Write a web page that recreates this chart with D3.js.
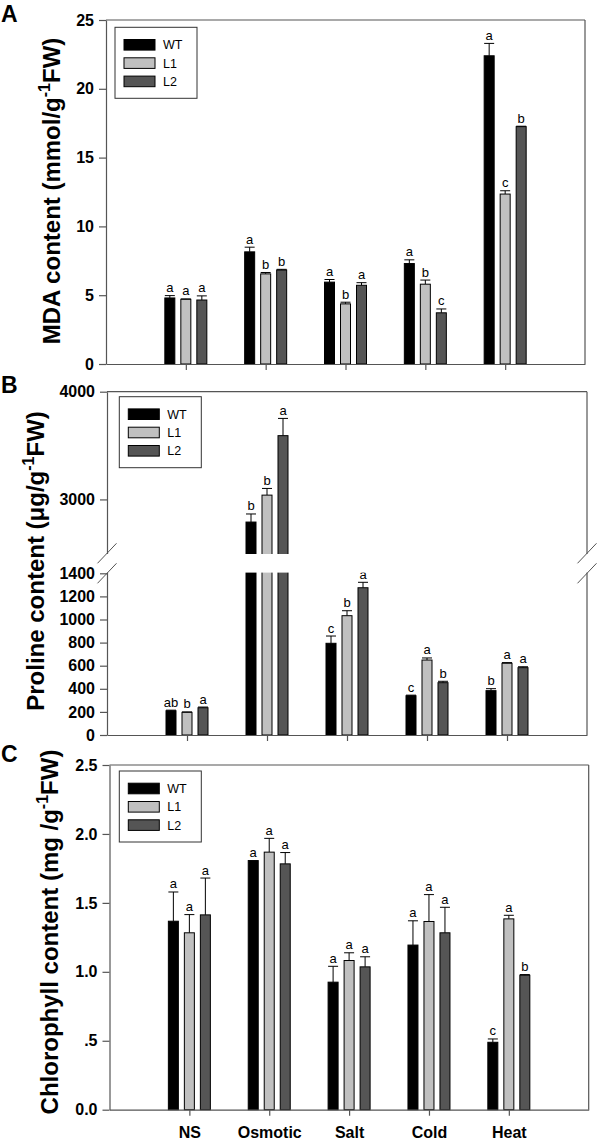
<!DOCTYPE html>
<html><head><meta charset="utf-8">
<script src="https://cdn.jsdelivr.net/npm/d3@7"></script>
<style>body{margin:0;background:#fff}svg{display:block}</style>
</head><body>
<svg id="chart" width="600" height="1144"></svg>
<script>
// ---------- data ----------
const categories = ["NS", "Osmotic", "Salt", "Cold", "Heat"];
const series = ["WT", "L1", "L2"];

const mdaWT = [4.8, 8.15, 5.95, 7.3, 22.4];
const mdaWTErr = [0.17, 0.34, 0.19, 0.27, 0.9];
const mdaL1 = [4.7, 6.55, 4.37, 5.8, 12.35];
const mdaL1Err = [0.03, 0.1, 0.12, 0.3, 0.24];
const mdaL2 = [4.65, 6.83, 5.72, 3.72, 17.25];
const mdaL2Err = [0.3, 0.05, 0.19, 0.28, 0.03];
const mdaLetWT = ["a", "a", "a", "a", "a"];
const mdaLetL1 = ["a", "b", "b", "b", "c"];
const mdaLetL2 = ["a", "b", "a", "c", "b"];

const proWT = [210, 2790, 794, 340, 384];
const proWTErr = [5, 75, 63, 5, 17];
const proL1 = [196, 3040, 1033, 649, 621];
const proL1Err = [4, 62, 43, 18, 6];
const proL2 = [236, 3592, 1275, 453, 583];
const proL2Err = [6, 160, 47, 12, 8];
const proLetWT = ["ab", "b", "c", "c", "b"];
const proLetL1 = ["b", "b", "b", "a", "a"];
const proLetL2 = ["a", "a", "a", "b", "a"];

const chlWT = [1.367, 1.807, 0.925, 1.194, 0.489];
const chlWTErr = [0.212, 0.0, 0.115, 0.176, 0.024];
const chlL1 = [1.283, 1.868, 1.082, 1.365, 1.384];
const chlL1Err = [0.132, 0.10, 0.056, 0.195, 0.026];
const chlL2 = [1.413, 1.783, 1.036, 1.283, 0.975];
const chlL2Err = [0.267, 0.082, 0.073, 0.185, 0.005];
const chlLetWT = ["a", "a", "a", "a", "c"];
const chlLetL1 = ["a", "a", "a", "a", "a"];
const chlLetL2 = ["a", "a", "a", "a", "b"];

const mdaTicks = [0, 5, 10, 15, 20, 25];
const proTicks = [0, 200, 400, 600, 800, 1000, 1200, 1400, 3000, 4000];
const chlTicks = [0, 0.5, 1.0, 1.5, 2.0, 2.5];
const chlTickLabels = ["0.0", ".5", "1.0", "1.5", "2.0", "2.5"];

// ---------- drawing ----------
const FONT = "'Liberation Sans', Arial, Helvetica, sans-serif";
const colors = d3.scaleOrdinal().domain(series).range(["#000000", "#c0c0c0", "#555555"]);
const AX = "#555";
const svg = d3.select("#chart");

function drawPanel(cfg) {
  const g = svg.append("g");
  const x = d3.scalePoint().domain(categories).range([cfg.left, cfg.right]).padding(1);
  const off = d3.scalePoint().domain(series).range([-16, 16]);
  const y = d3.scaleLinear().domain(cfg.yDomain).range(cfg.yRange);
  const barW = 10;

  const rows = [];
  series.forEach((s, si) => {
    categories.forEach((c, ci) => {
      rows.push({s, c, v: cfg.vals[si][ci], e: cfg.errs[si][ci], l: cfg.lets[si][ci]});
    });
  });

  // frame top & right
  g.append("line").attr("x1", cfg.left).attr("x2", cfg.right).attr("y1", cfg.top).attr("y2", cfg.top)
    .attr("stroke", AX).attr("stroke-width", 1.2);
  g.append("line").attr("x1", cfg.right).attr("x2", cfg.right).attr("y1", cfg.top).attr("y2", cfg.bottom)
    .attr("stroke", AX).attr("stroke-width", 1.2);

  // error bars
  const eb = g.append("g").attr("stroke", "#000").attr("stroke-width", 1);
  rows.forEach(r => {
    const cx = x(r.c) + off(r.s);
    if (r.e > 0) {
      eb.append("line").attr("x1", cx).attr("x2", cx).attr("y1", y(r.v)).attr("y2", y(r.v + r.e));
      eb.append("line").attr("x1", cx - 5).attr("x2", cx + 5).attr("y1", y(r.v + r.e)).attr("y2", y(r.v + r.e));
    }
  });

  // bars
  g.append("g").selectAll("rect").data(rows).join("rect")
    .attr("x", d => x(d.c) + off(d.s) - barW / 2)
    .attr("width", barW)
    .attr("y", d => y(d.v))
    .attr("height", d => y(0) - y(d.v))
    .attr("fill", d => colors(d.s))
    .attr("stroke", "#000").attr("stroke-width", 1);

  // letters
  g.append("g").selectAll("text").data(rows).join("text")
    .attr("x", d => x(d.c) + off(d.s))
    .attr("y", d => y(d.v + d.e) - 3.5)
    .attr("text-anchor", "middle")
    .attr("font-family", FONT).attr("font-size", 13).attr("fill", "#000")
    .text(d => d.l);

  // y axis
  const ya = d3.axisLeft(y).tickValues(cfg.ticks).tickSize(7).tickSizeOuter(0).tickPadding(5)
    .tickFormat(cfg.tickFormat);
  const yg = g.append("g").attr("transform", `translate(${cfg.left},0)`).call(ya);
  yg.select(".domain").attr("stroke", AX).attr("stroke-width", 1.2);
  yg.selectAll(".tick line").attr("stroke", AX).attr("stroke-width", 1.2);
  yg.selectAll("text").attr("font-family", FONT).attr("font-size", 16).attr("font-weight", "bold").attr("fill", "#000");

  // x axis
  const xa = d3.axisBottom(x).tickSize(6).tickSizeOuter(0).tickFormat(cfg.showCats ? (d => d) : () => "");
  const xg = g.append("g").attr("transform", `translate(0,${cfg.bottom})`).call(xa);
  xg.select(".domain").attr("stroke", AX).attr("stroke-width", 1.2);
  xg.selectAll(".tick line").attr("stroke", AX).attr("stroke-width", 1.2);
  xg.selectAll("text").attr("font-family", FONT).attr("font-size", 16).attr("font-weight", "bold")
    .attr("fill", "#000").attr("y", 28.5).attr("dy", 0);

  // axis break
  if (cfg.gap) {
    const [gy1, gy2] = cfg.gap;
    g.append("rect").attr("x", cfg.left - 4).attr("width", cfg.right - cfg.left + 8)
      .attr("y", gy1 + 0.7).attr("height", gy2 - gy1 - 1.4).attr("fill", "#fff");
    [cfg.left, cfg.right].forEach(ax => {
      [gy1, gy2].forEach(gy => {
        g.append("line").attr("x1", ax - 9.5).attr("y1", gy + 10).attr("x2", ax + 9.5).attr("y2", gy - 10)
          .attr("stroke", AX).attr("stroke-width", 1);
      });
    });
  }

  // legend
  const lg = g.append("g").attr("transform", `translate(${cfg.legend[0]},${cfg.legend[1]})`);
  lg.append("rect").attr("x", 0).attr("y", 0).attr("width", 82).attr("height", 71)
    .attr("fill", "#fff").attr("stroke", "#333").attr("stroke-width", 1);
  series.forEach((s, i) => {
    const cy = 17.5 + i * 18.3;
    lg.append("rect").attr("x", 9).attr("y", cy - 5.3).attr("width", 31).attr("height", 10.6)
      .attr("fill", colors(s)).attr("stroke", "#000").attr("stroke-width", 1);
    lg.append("text").attr("x", 48).attr("y", cy + 4.5)
      .attr("font-family", FONT).attr("font-size", 12.5).attr("fill", "#000").text(s);
  });

  // panel letter
  svg.append("text").attr("x", cfg.letterPos[0]).attr("y", cfg.letterPos[1])
    .attr("font-family", FONT).attr("font-size", 23).attr("font-weight", "bold").text(cfg.letter);

  // axis title
  const t = svg.append("text")
    .attr("transform", `translate(${cfg.titlePos[0]},${cfg.titlePos[1]}) rotate(-90)`)
    .attr("text-anchor", "middle")
    .attr("font-family", FONT).attr("font-size", 24).attr("font-weight", "bold").attr("fill", "#000");
  t.append("tspan").text(cfg.title[0]);
  t.append("tspan").attr("dy", -10).attr("font-size", 16).text("-1");
  t.append("tspan").attr("dy", 10).text(cfg.title[1]);
}

drawPanel({
  left: 106, right: 585, top: 20, bottom: 364,
  yDomain: [0, 25], yRange: [364, 20],
  vals: [mdaWT, mdaL1, mdaL2], errs: [mdaWTErr, mdaL1Err, mdaL2Err], lets: [mdaLetWT, mdaLetL1, mdaLetL2],
  ticks: mdaTicks, tickFormat: d3.format("d"), showCats: false,
  legend: [115, 27.3], letter: "A", letterPos: [1, 22],
  title: ["MDA content (mmol/g", "FW)"], titlePos: [60, 191]
});

drawPanel({
  left: 107, right: 587, top: 391.7, bottom: 735,
  yDomain: [0, 1400, 2500, 4000], yRange: [735, 573.3, 553.3, 391.7],
  vals: [proWT, proL1, proL2], errs: [proWTErr, proL1Err, proL2Err], lets: [proLetWT, proLetL1, proLetL2],
  ticks: proTicks, tickFormat: d3.format("d"), showCats: false, gap: [553.3, 573.3],
  legend: [119.3, 396.7], letter: "B", letterPos: [1, 393],
  title: ["Proline content (\u03bcg/g", "FW)"], titlePos: [43.5, 561]
});

drawPanel({
  left: 109.5, right: 588.7, top: 765, bottom: 1109.7,
  yDomain: [0, 2.5], yRange: [1109.7, 765],
  vals: [chlWT, chlL1, chlL2], errs: [chlWTErr, chlL1Err, chlL2Err], lets: [chlLetWT, chlLetL1, chlLetL2],
  ticks: chlTicks, tickFormat: (d, i) => chlTickLabels[i], showCats: true,
  legend: [119.3, 771], letter: "C", letterPos: [1, 762],
  title: ["Chlorophyll content (mg /g", "FW)"], titlePos: [58, 932]
});
</script>
</body></html>
